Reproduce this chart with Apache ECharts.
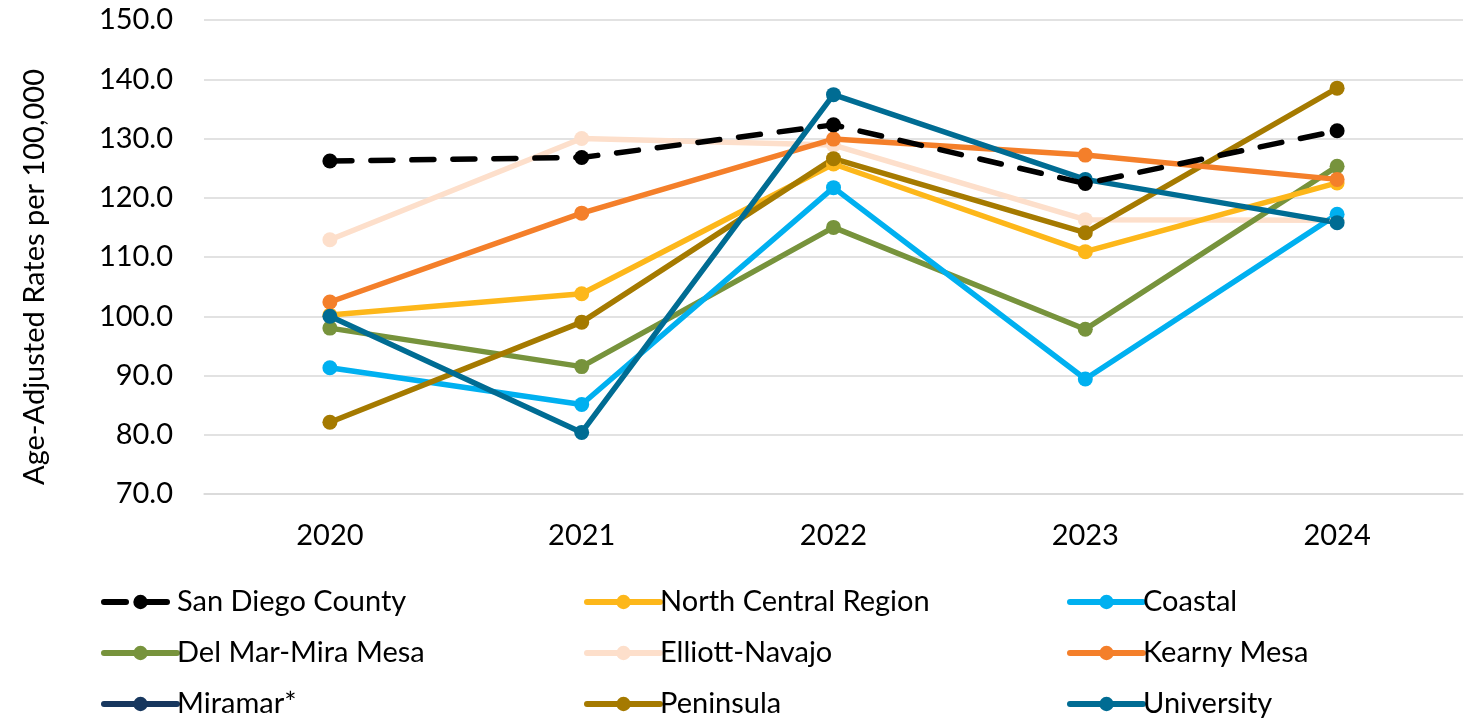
<!DOCTYPE html>
<html>
<head>
<meta charset="utf-8">
<script src="https://cdn.jsdelivr.net/npm/echarts@6/dist/echarts.min.js"></script>
<style>
  html, body { margin: 0; padding: 0; background: #fff; }
  #chart { width: 1475px; height: 721px; }
</style>
</head>
<body>
<div id="chart"></div>
<script>
// 年份
const years = ['2020', '2021', '2022', '2023', '2024'];

// 各地区数值
const sanDiegoCounty = [126.2, 126.8, 132.3, 122.4, 131.3];
const northCentral = [100.2, 103.8, 125.7, 110.9, 122.5];
const coastal = [91.3, 85.1, 121.7, 89.4, 117.2];
const delMarMiraMesa = [98.0, 91.5, 115.0, 97.8, 125.3];
const elliottNavajo = [112.9, 130.0, 128.9, 116.3, 116.2];
const kearnyMesa = [102.4, 117.4, 129.9, 127.2, 123.1];
const miramar = [null, null, null, null, null];
const peninsula = [82.1, 99.0, 126.6, 114.1, 138.5];
const university = [100.0, 80.4, 137.4, 123.1, 115.8];

const yTicks = { min: 70, max: 150, interval: 10 };

const FONT = 'Lato, "Liberation Sans", sans-serif';

const mkLine = (name, data, color, dashed) => ({
    name: name,
    type: 'line',
    data: data,
    symbol: 'circle',
    symbolSize: 15,
    color: color,
    lineStyle: { width: 5.5, color: color, type: dashed ? [22, 19] : 'solid', cap: 'round' },
    itemStyle: { color: color },
    emphasis: { disabled: true },
    z: name === 'San Diego County' ? 3 : 2
});

const seriesList = [
    mkLine('Elliott-Navajo', elliottNavajo, '#FDDFCB'),
    mkLine('Del Mar-Mira Mesa', delMarMiraMesa, '#77933C'),
    mkLine('Coastal', coastal, '#00B0F0'),
    mkLine('North Central Region', northCentral, '#FDB71A'),
    mkLine('Peninsula', peninsula, '#A57A00'),
    mkLine('Kearny Mesa', kearnyMesa, '#F47F2A'),
    mkLine('San Diego County', sanDiegoCounty, '#000000', true),
    mkLine('Miramar*', miramar, '#17375E'),
    mkLine('University', university, '#006C93')
];

const legendCols = [
    ['San Diego County', 'Del Mar-Mira Mesa', 'Miramar*'],
    ['North Central Region', 'Elliott-Navajo', 'Peninsula'],
    ['Coastal', 'Kearny Mesa', 'University']
];
const legendLeft = [101, 584, 1067];

const chart = echarts.init(document.getElementById('chart'));
chart.setOption({
    animation: false,
    textStyle: { fontFamily: FONT },
    grid: { left: 204, right: 12, top: 20, bottom: 227 },
    xAxis: {
        type: 'category',
        data: years,
        boundaryGap: true,
        axisLine: { show: true, lineStyle: { color: '#D9D9D9', width: 1.5 } },
        axisTick: { show: false },
        axisLabel: { fontSize: 29, color: '#000', margin: 27, fontFamily: FONT }
    },
    yAxis: {
        type: 'value',
        min: yTicks.min,
        max: yTicks.max,
        interval: yTicks.interval,
        name: 'Age-Adjusted Rates per 100,000',
        nameLocation: 'middle',
        nameGap: 155,
        nameTextStyle: { fontSize: 29, color: '#000', fontFamily: FONT, padding: [0, 40, 0, 0] },
        axisLine: { show: false },
        axisTick: { show: false },
        axisLabel: {
            fontSize: 29, color: '#000', margin: 31, fontFamily: FONT,
            formatter: (v) => v.toFixed(1)
        },
        splitLine: { lineStyle: { color: '#D9D9D9', width: 1.5 } }
    },
    legend: legendCols.map((col, i) => ({
        data: col,
        orient: 'vertical',
        left: legendLeft[i],
        top: 587,
        height: 200,
        padding: 0,
        itemWidth: 73,
        itemHeight: 18,
        itemGap: 21,
        selectedMode: false,
        lineStyle: { width: 6, cap: 'round' },
        textStyle: { fontSize: 29, color: '#000', fontFamily: FONT, lineHeight: 30, padding: [0, 0, 0, -5] }
    })),
    series: seriesList
});
</script>
</body>
</html>
